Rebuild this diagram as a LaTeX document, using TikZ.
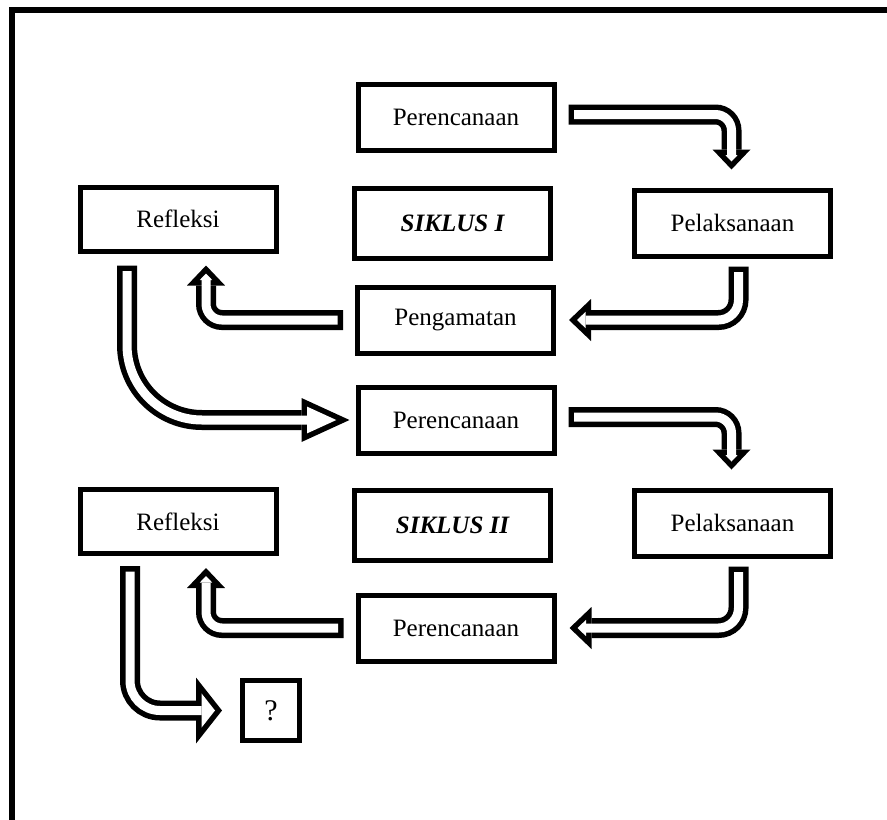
\documentclass[tikz,border=0pt]{standalone}
\usepackage{fontspec}
\setmainfont{Liberation Serif}
\usetikzlibrary{arrows.meta,calc}

\tikzset{
  kotak/.style={draw, line width=5pt, minimum width=196pt, minimum height=66pt,
    inner sep=0pt, font=\fontsize{25}{30}\selectfont},
  siklus/.style={kotak, minimum height=70pt, font=\fontsize{25}{30}\selectfont\bfseries\itshape},
  luar/.style 2 args={line width=20pt, -{Triangle[width=#1pt,length=#2pt,line width=0pt]}},
  dalam/.style n args={3}{white, line width=9pt, shorten <=5.5pt, shorten >=#3pt,
    -{Triangle[width=#1pt,length=#2pt,line width=0pt]}},
}

\newcommand{\Panah}[4]{%
  \draw[luar=#1, rounded corners=#3] #4;
  \draw[dalam=#2, rounded corners=#3] #4;
}

\begin{document}
\begin{tikzpicture}[x=1pt, y=-1pt]
    \useasboundingbox (0,0) rectangle (887,820);
    \clip (0,0) rectangle (887,820);
    \draw[line width=5.5pt] (12,10) rectangle (900,830);

    \node[kotak] (per1) at (456,117.5) {Perencanaan};
    \node[kotak, minimum height=64pt] (ref1) at (178,219) {Refleksi};
    \node[siklus] (sik1) at (452.5,223.5) {SIKLUS I};
    \node[kotak] (pel1) at (732.5,223) {Pelaksanaan};
    \node[kotak] (peng1) at (455.5,320) {Pengamatan};

    \node[kotak] (per2) at (456,420) {Perencanaan};
    \node[kotak, minimum height=64pt] (ref2) at (178,521.5) {Refleksi};
    \node[siklus] (sik2) at (452.5,525) {SIKLUS II};
    \node[kotak] (pel2) at (732.5,523) {Pelaksanaan};
    \node[kotak] (per3) at (456,628) {Perencanaan};
    \node[kotak, minimum width=57pt, minimum height=60pt, font=\fontsize{30}{36}\selectfont] (q) at (271,710.5) {?};

    \Panah{{38}{20}}{{12.4}{6.5}{8}}{16pt}{($(per1.east)+(12,-3)$) -| ($(pel1.north)+(-1,-18)$)}
    \Panah{{42}{22}}{{16.2}{8.5}{8}}{20pt}{($(pel1.south)+(6,8)$) |- ($(peng1.east)+(13,0)$)}
    \Panah{{38}{20}}{{12.4}{6.5}{8}}{16pt}{($(peng1.west)+(-12,0)$) -| ($(ref1.south)+(28,12)$)}
    \Panah{{44}{48}}{{26.8}{29.3}{13.2}}{75pt}{($(ref1.south)+(-51,12)$) |- ($(per2.west)+(-6,0)$)}

    \Panah{{38}{20}}{{12.4}{6.5}{8}}{16pt}{($(per2.east)+(12,-3)$) -| ($(pel2.north)+(-1,-18)$)}
    \Panah{{42}{22}}{{16.2}{8.5}{8}}{20pt}{($(pel2.south)+(6,8)$) |- ($(per3.east)+(13,0)$)}
    \Panah{{38}{20}}{{12.4}{6.5}{8}}{16pt}{($(per3.west)+(-12,0)$) -| ($(ref2.south)+(28,12)$)}
    \Panah{{66}{26}}{{34.3}{13.5}{7}}{30pt}{($(ref2.south)+(-48,10)$) |- ($(q.west)+(-18,0)$)}
\end{tikzpicture}
\end{document}
